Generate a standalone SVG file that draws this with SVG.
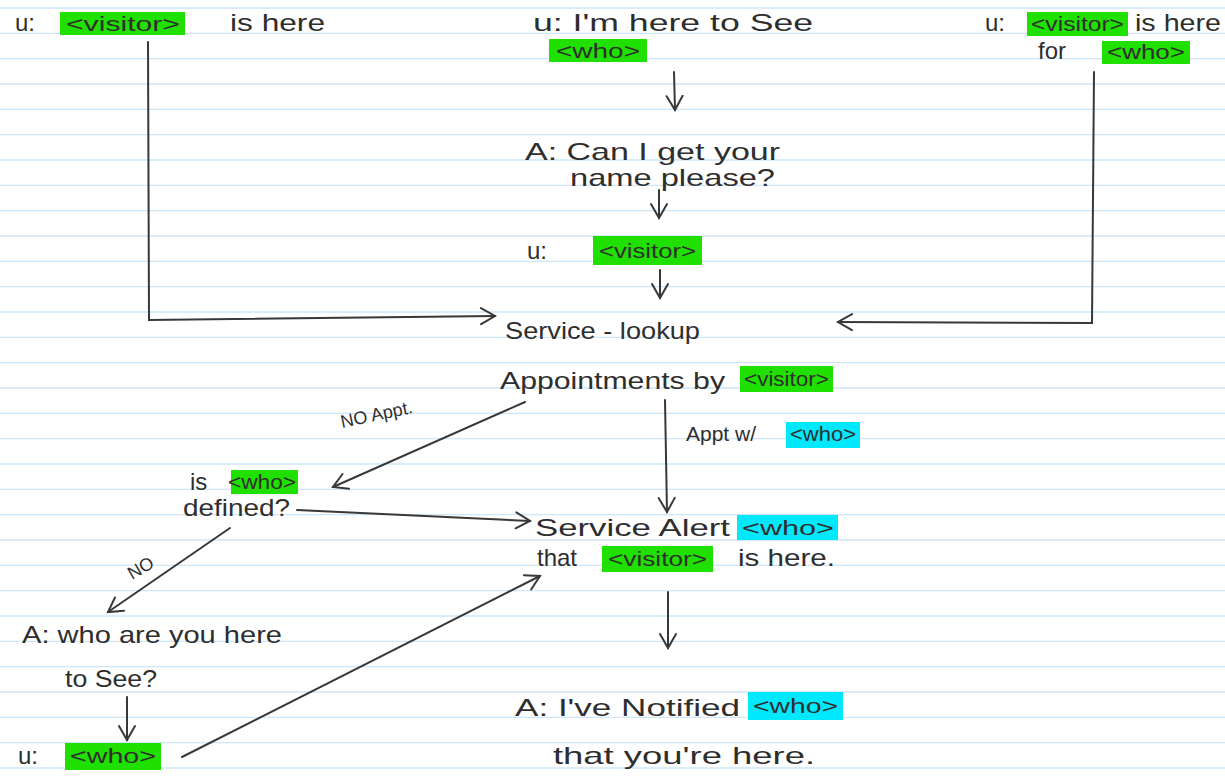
<svg xmlns="http://www.w3.org/2000/svg" width="1225" height="776" viewBox="0 0 1225 776">
<defs>
<style>
.t{font-family:"Liberation Sans","DejaVu Sans",sans-serif;font-size:24px;fill:#2e2e2e;}
.s{font-size:18px;}
.m{font-size:20px;}
.g{fill:#1fe000;}
.c{fill:#00e8fb;}
.ln{stroke:#383838;stroke-width:2;fill:none;stroke-linecap:round;}
.rule{stroke:#cfe6f8;stroke-width:1.3;}
</style>
<marker id="ah" viewBox="0 0 20 20" refX="18" refY="10" markerWidth="20" markerHeight="20" markerUnits="userSpaceOnUse" orient="auto">
<path d="M4 2 L18 10 L4 18" fill="none" stroke="#383838" stroke-width="2" stroke-linecap="round"/>
</marker>
</defs>
<rect width="1225" height="776" fill="#ffffff"/>
<path class="rule" d="M0 8H1225M0 33.3H1225M0 58.7H1225M0 84H1225M0 109.3H1225M0 134.7H1225M0 160H1225M0 185.3H1225M0 210.7H1225M0 236H1225M0 261.3H1225M0 286.7H1225M0 312H1225M0 337.3H1225M0 362.7H1225M0 388H1225M0 413.3H1225M0 438.7H1225M0 464H1225M0 489.3H1225M0 514.7H1225M0 540H1225M0 565.3H1225M0 590.7H1225M0 616H1225M0 641.3H1225M0 666.7H1225M0 692H1225M0 717.3H1225M0 742.7H1225M0 768H1225"/>

<g id="connectors">
<path class="ln" d="M148 42 L149 320 L495 316" marker-end="url(#ah)"/>
<path class="ln" d="M674 72 L675 110" marker-end="url(#ah)"/>
<path class="ln" d="M1094 72 L1092 323 L838 322" marker-end="url(#ah)"/>
<path class="ln" d="M659 190 L659 218" marker-end="url(#ah)"/>
<path class="ln" d="M660 270 L660 298" marker-end="url(#ah)"/>
<path class="ln" d="M525 402 L333 487" marker-end="url(#ah)"/>
<path class="ln" d="M665 400 L667 512" marker-end="url(#ah)"/>
<path class="ln" d="M297 510 L530 521" marker-end="url(#ah)"/>
<path class="ln" d="M230 528 L108 612" marker-end="url(#ah)"/>
<path class="ln" d="M127 697 L127 740" marker-end="url(#ah)"/>
<path class="ln" d="M182 757 L540 576" marker-end="url(#ah)"/>
<path class="ln" d="M668 592 L668 648" marker-end="url(#ah)"/>
<text class="t s" x="342" y="428" transform="rotate(-12 342 428)">NO Appt.</text>
<rect class="c" x="786" y="422" width="74" height="26"/>
<text class="t m" x="686" y="441" textLength="70" lengthAdjust="spacingAndGlyphs">Appt w/</text>
<text class="t m" x="790" y="441" textLength="66" lengthAdjust="spacingAndGlyphs">&lt;who&gt;</text>
<text class="t s" x="132" y="580" transform="rotate(-30 132 580)">NO</text>
</g>

<g id="n-visitor-here">
<rect class="g" x="60" y="12" width="125" height="23"/>
<text class="t" x="15" y="31">u:</text>
<text class="t m" x="66" y="31" textLength="114" lengthAdjust="spacingAndGlyphs">&lt;visitor&gt;</text>
<text class="t" x="230" y="31" textLength="95" lengthAdjust="spacingAndGlyphs">is here</text>
</g>

<g id="n-here-to-see">
<text class="t" x="533" y="31" textLength="280" lengthAdjust="spacingAndGlyphs">u: I'm  here  to See</text>
<rect class="g" x="549" y="39" width="98" height="23"/>
<text class="t m" x="556" y="58" textLength="84" lengthAdjust="spacingAndGlyphs">&lt;who&gt;</text>
</g>

<g id="n-visitor-for-who">
<text class="t" x="985" y="31">u:</text>
<rect class="g" x="1027" y="12" width="101" height="24"/>
<text class="t m" x="1031" y="31" textLength="93" lengthAdjust="spacingAndGlyphs">&lt;visitor&gt;</text>
<text class="t" x="1135" y="31" textLength="86" lengthAdjust="spacingAndGlyphs">is here</text>
<text class="t" x="1038" y="59">for</text>
<rect class="g" x="1102" y="41" width="88" height="23"/>
<text class="t m" x="1107" y="59" textLength="78" lengthAdjust="spacingAndGlyphs">&lt;who&gt;</text>
</g>

<g id="n-ask-name">
<text class="t" x="525" y="160" textLength="255" lengthAdjust="spacingAndGlyphs">A:  Can  I  get  your</text>
<text class="t" x="570" y="186" textLength="205" lengthAdjust="spacingAndGlyphs">name  please?</text>
</g>

<g id="n-visitor-name">
<text class="t" x="527" y="259">u:</text>
<rect class="g" x="593" y="236" width="109" height="29"/>
<text class="t m" x="599" y="258" textLength="97" lengthAdjust="spacingAndGlyphs">&lt;visitor&gt;</text>
</g>

<g id="n-lookup">
<text class="t" x="505" y="339" textLength="195" lengthAdjust="spacingAndGlyphs">Service - lookup</text>
<text class="t" x="500" y="389" textLength="225" lengthAdjust="spacingAndGlyphs">Appointments  by</text>
<rect class="g" x="740" y="366" width="93" height="26"/>
<text class="t m" x="744" y="386" textLength="85" lengthAdjust="spacingAndGlyphs">&lt;visitor&gt;</text>
</g>

<g id="n-who-defined">
<text class="t" x="190" y="490">is</text>
<rect class="g" x="231" y="470" width="67" height="24"/>
<text class="t m" x="228" y="489" textLength="68" lengthAdjust="spacingAndGlyphs">&lt;who&gt;</text>
<text class="t" x="183" y="516" textLength="107" lengthAdjust="spacingAndGlyphs">defined?</text>
</g>

<g id="n-alert">
<text class="t" x="535" y="536" textLength="195" lengthAdjust="spacingAndGlyphs">Service   Alert</text>
<rect class="c" x="737" y="515" width="101" height="25"/>
<text class="t m" x="742" y="535" textLength="92" lengthAdjust="spacingAndGlyphs">&lt;who&gt;</text>
<text class="t" x="537" y="566">that</text>
<rect class="g" x="602" y="546" width="111" height="26"/>
<text class="t m" x="608" y="566" textLength="99" lengthAdjust="spacingAndGlyphs">&lt;visitor&gt;</text>
<text class="t" x="738" y="566" textLength="97" lengthAdjust="spacingAndGlyphs">is  here.</text>
</g>

<g id="n-ask-who">
<text class="t" x="22" y="643" textLength="260" lengthAdjust="spacingAndGlyphs">A: who  are  you here</text>
<text class="t" x="65" y="687" textLength="92" lengthAdjust="spacingAndGlyphs">to See?</text>
</g>

<g id="n-user-who">
<text class="t" x="18" y="764">u:</text>
<rect class="g" x="65" y="743" width="96" height="27"/>
<text class="t m" x="70" y="763" textLength="86" lengthAdjust="spacingAndGlyphs">&lt;who&gt;</text>
</g>

<g id="n-notified">
<text class="t" x="515" y="716" textLength="225" lengthAdjust="spacingAndGlyphs">A: I've  Notified</text>
<rect class="c" x="748" y="692" width="95" height="28"/>
<text class="t m" x="753" y="713" textLength="85" lengthAdjust="spacingAndGlyphs">&lt;who&gt;</text>
<text class="t" x="553" y="764" textLength="262" lengthAdjust="spacingAndGlyphs">that  you're   here.</text>
</g>
</svg>
